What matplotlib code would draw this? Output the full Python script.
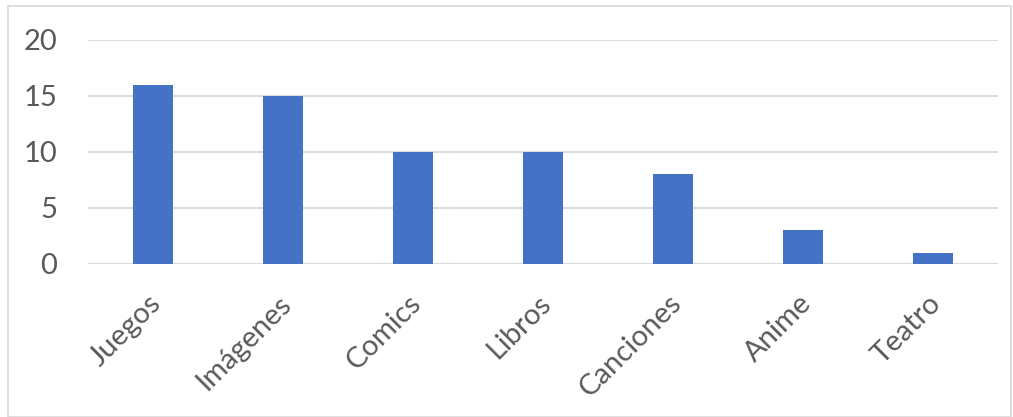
import matplotlib.pyplot as plt
from matplotlib.patches import Rectangle
from matplotlib.transforms import ScaledTranslation

categories = ["Juegos", "Imágenes", "Comics", "Libros", "Canciones", "Anime", "Teatro"]
values = [16, 15, 10, 10, 8, 3, 1]
y_ticks = [0, 5, 10, 15, 20]

plt.rcParams['font.family'] = ['Lato', 'DejaVu Sans']

fig = plt.figure(figsize=(10.13, 4.17), dpi=100)
fig.patches.append(Rectangle((8 / 1013, 0), 1003 / 1013, 1 - 6 / 417,
                             transform=fig.transFigure, fill=False,
                             edgecolor='#d9d9d9', linewidth=1.2))

ax = fig.add_axes([88 / 1013, 1 - 264 / 417, 910 / 1013, 224 / 417])
x = range(len(categories))
ax.bar(x, values, width=0.315, color='#4472c4', zorder=3)

ax.set_xlim(-0.5, len(categories) - 0.5)
ax.set_ylim(0, 20)
ax.set_yticks(y_ticks)
ax.yaxis.grid(True, color='#d9d9d9', linewidth=1.3, zorder=0)
for s in ax.spines.values():
    s.set_visible(False)
ax.axhline(0, color='#d9d9d9', linewidth=1.3, zorder=1)

ax.tick_params(axis='both', length=0, labelsize=21, labelcolor='#595959')
ax.tick_params(axis='y', pad=22)
ax.set_xticks(list(x))
ax.set_xticklabels(categories, rotation=45, ha='right', va='top',
                   rotation_mode='anchor')
ax.tick_params(axis='x', pad=16)
shift = ScaledTranslation(-5 / 100, -4 / 100, fig.dpi_scale_trans)
for lbl in ax.get_xticklabels():
    lbl.set_transform(lbl.get_transform() + shift)

fig.savefig('out.png', dpi=100)
